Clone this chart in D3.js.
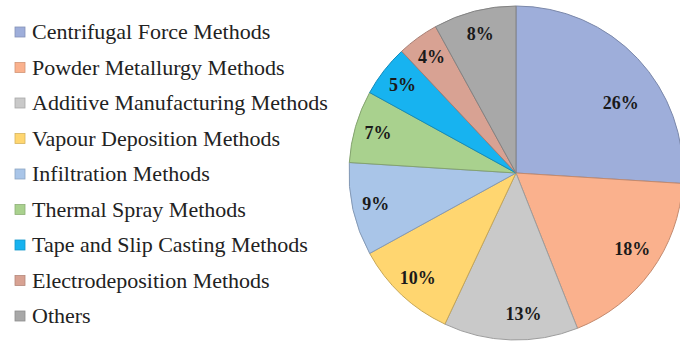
<!DOCTYPE html>
<html>
<head>
<meta charset="utf-8">
<script src="https://cdn.jsdelivr.net/npm/d3@7"></script>
<style>
  html, body { margin: 0; padding: 0; background: #ffffff; }
  svg { display: block; }
</style>
</head>
<body>
<svg id="chart" width="680" height="341"></svg>
<script>
// ---- Data ----
const categories = [
  "Centrifugal Force Methods",
  "Powder Metallurgy Methods",
  "Additive Manufacturing Methods",
  "Vapour Deposition Methods",
  "Infiltration Methods",
  "Thermal Spray Methods",
  "Tape and Slip Casting Methods",
  "Electrodeposition Methods",
  "Others"
];
const shares = [26, 18, 13, 10, 9, 7, 5, 4, 8];
const colors = ["#9eaeda", "#fab18d", "#c9c9c9", "#ffd670", "#a9c5e8", "#a9d18e", "#17b3f0", "#d8a293", "#a8a8a8"];

// ---- Layout ----
const W = 680, H = 341;
const cx = 516, cy = 173, R = 167;
const svg = d3.select("#chart");

const data = categories.map((c, i) => ({ name: c, value: shares[i], color: colors[i] }));

const pie = d3.pie().value(d => d.value).sort(null);
const arcs = pie(data);
const arc = d3.arc().innerRadius(0).outerRadius(R);

const g = svg.append("g").attr("transform", `translate(${cx},${cy})`);

g.selectAll("path.slice")
  .data(arcs)
  .enter().append("path")
  .attr("class", "slice")
  .attr("d", arc)
  .attr("fill", d => d.data.color)
  .attr("stroke", d => d3.color(d.data.color).darker(0.7))
  .attr("stroke-width", 1);

// labels
const labelArc = d3.arc().innerRadius(R * 0.86).outerRadius(R * 0.86);
const nudge = { "Centrifugal Force Methods": [0, 28], "Powder Metallurgy Methods": [0, -8], "Additive Manufacturing Methods": [12, -3] };
g.selectAll("text.lbl")
  .data(arcs)
  .enter().append("text")
  .attr("class", "lbl")
  .attr("transform", d => {
    const [x, y] = labelArc.centroid(d);
    const n = nudge[d.data.name] || [0, 0];
    return `translate(${x + n[0]},${y + n[1]})`;
  })
  .attr("text-anchor", "middle")
  .attr("dominant-baseline", "central")
  .attr("font-family", "'Liberation Serif', 'Times New Roman', serif")
  .attr("font-weight", "bold")
  .attr("font-size", 18)
  .attr("fill", "#1a1a1a")
  .text(d => d.data.value + "%");

// legend
const legendY = d3.scalePoint().domain(categories).range([32, 316]);
const lg = svg.append("g");
const items = lg.selectAll("g.item").data(data).enter().append("g")
  .attr("transform", d => `translate(15,${legendY(d.name)})`);
items.append("rect")
  .attr("x", 0).attr("y", -5)
  .attr("width", 10).attr("height", 10)
  .attr("fill", d => d.color)
  .attr("stroke", d => d3.color(d.color).darker(0.5))
  .attr("stroke-width", 0.8);
items.append("text")
  .attr("x", 17).attr("y", -0.5)
  .attr("dominant-baseline", "central")
  .attr("font-family", "'Liberation Serif', 'Times New Roman', serif")
  .attr("font-size", 22)
  .attr("fill", "#222")
  .text(d => d.name);
</script>
</body>
</html>
